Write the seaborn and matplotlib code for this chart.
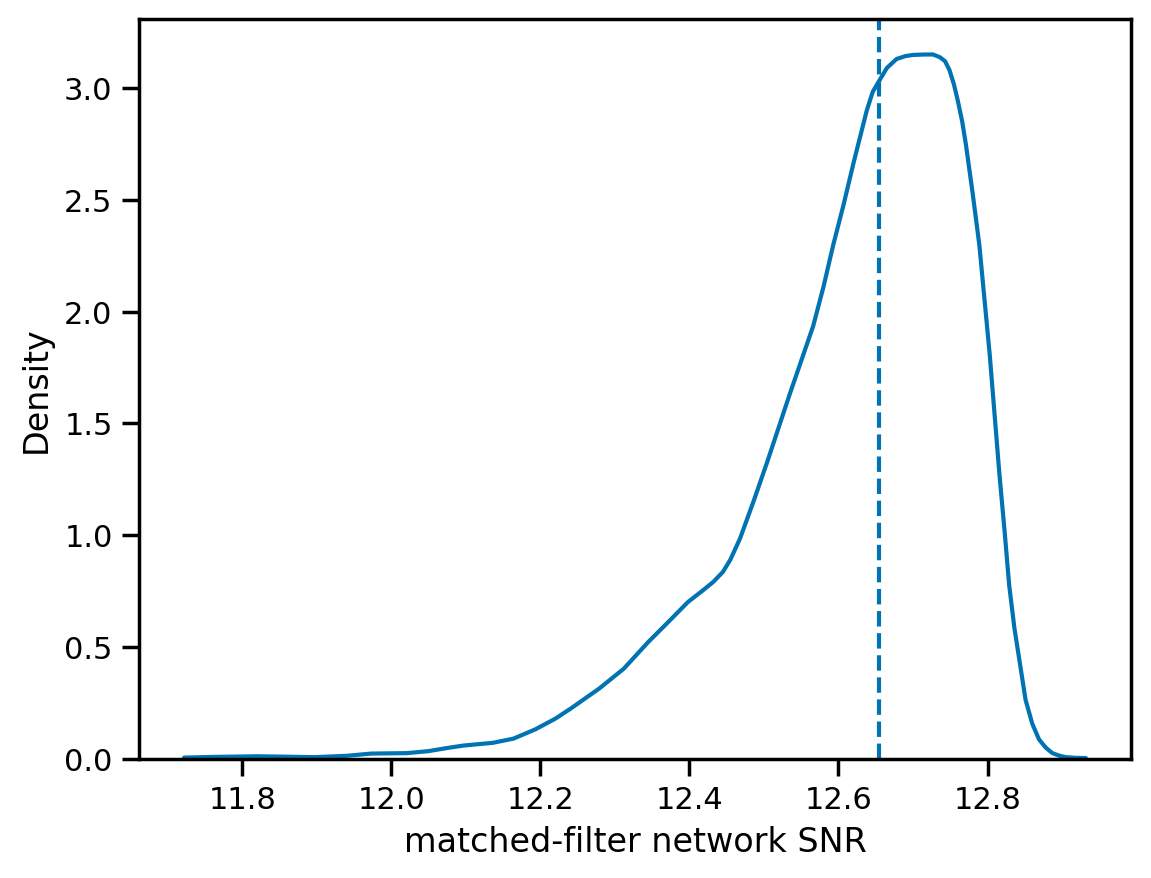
import matplotlib
matplotlib.use("Agg")
import matplotlib.pyplot as plt
import seaborn as sns
import pandas as pd

# Density curve (x = matched-filter network SNR, y = density)
snr = [11.722, 11.760, 11.820, 11.860, 11.897, 11.940, 11.973, 12.021, 12.050,
       12.075, 12.097, 12.136, 12.164, 12.193, 12.220, 12.241, 12.279, 12.312,
       12.345, 12.372, 12.398, 12.418, 12.432, 12.445, 12.455, 12.468, 12.486,
       12.504, 12.535, 12.566, 12.580, 12.593, 12.607, 12.620, 12.638, 12.646,
       12.656, 12.665, 12.678, 12.690, 12.700, 12.715, 12.727, 12.736, 12.743,
       12.749, 12.755, 12.760, 12.766, 12.771, 12.780, 12.789, 12.803, 12.816,
       12.823, 12.829, 12.836, 12.843, 12.851, 12.860, 12.869, 12.878, 12.887,
       12.896, 12.905, 12.918, 12.932]
density = [0.004, 0.007, 0.010, 0.008, 0.006, 0.012, 0.022, 0.024, 0.033,
           0.047, 0.058, 0.070, 0.089, 0.130, 0.178, 0.224, 0.313, 0.402,
           0.522, 0.612, 0.700, 0.752, 0.790, 0.835, 0.890, 0.985, 1.150,
           1.323, 1.634, 1.934, 2.112, 2.298, 2.480, 2.662, 2.900, 2.983,
           3.040, 3.090, 3.130, 3.143, 3.148, 3.150, 3.150, 3.138, 3.120,
           3.080, 3.015, 2.945, 2.850, 2.747, 2.530, 2.298, 1.805, 1.270,
           1.013, 0.777, 0.585, 0.435, 0.263, 0.156, 0.086, 0.049, 0.024,
           0.013, 0.006, 0.003, 0.002]
marker_snr = 12.655

sns.set_theme(context="notebook", style="ticks", palette="colorblind",
              rc={"text.color": "black", "axes.labelcolor": "black",
                  "axes.edgecolor": "black", "xtick.color": "black",
                  "ytick.color": "black"})
plt.rcParams["font.family"] = ["DejaVu Sans"]

df = pd.DataFrame({"snr": snr, "density": density})

fig, ax = plt.subplots(figsize=(6.4, 4.8))
sns.lineplot(data=df, x="snr", y="density", ax=ax, color="C0", linewidth=1.5)
ax.axvline(marker_snr, color="C0", linestyle="--", linewidth=1.5)
ax.set_ylim(0, max(density) * 1.05)
ax.set_xlabel("matched-filter network SNR")
ax.set_ylabel("Density")
fig.savefig("out.png", dpi=200, bbox_inches="tight")
